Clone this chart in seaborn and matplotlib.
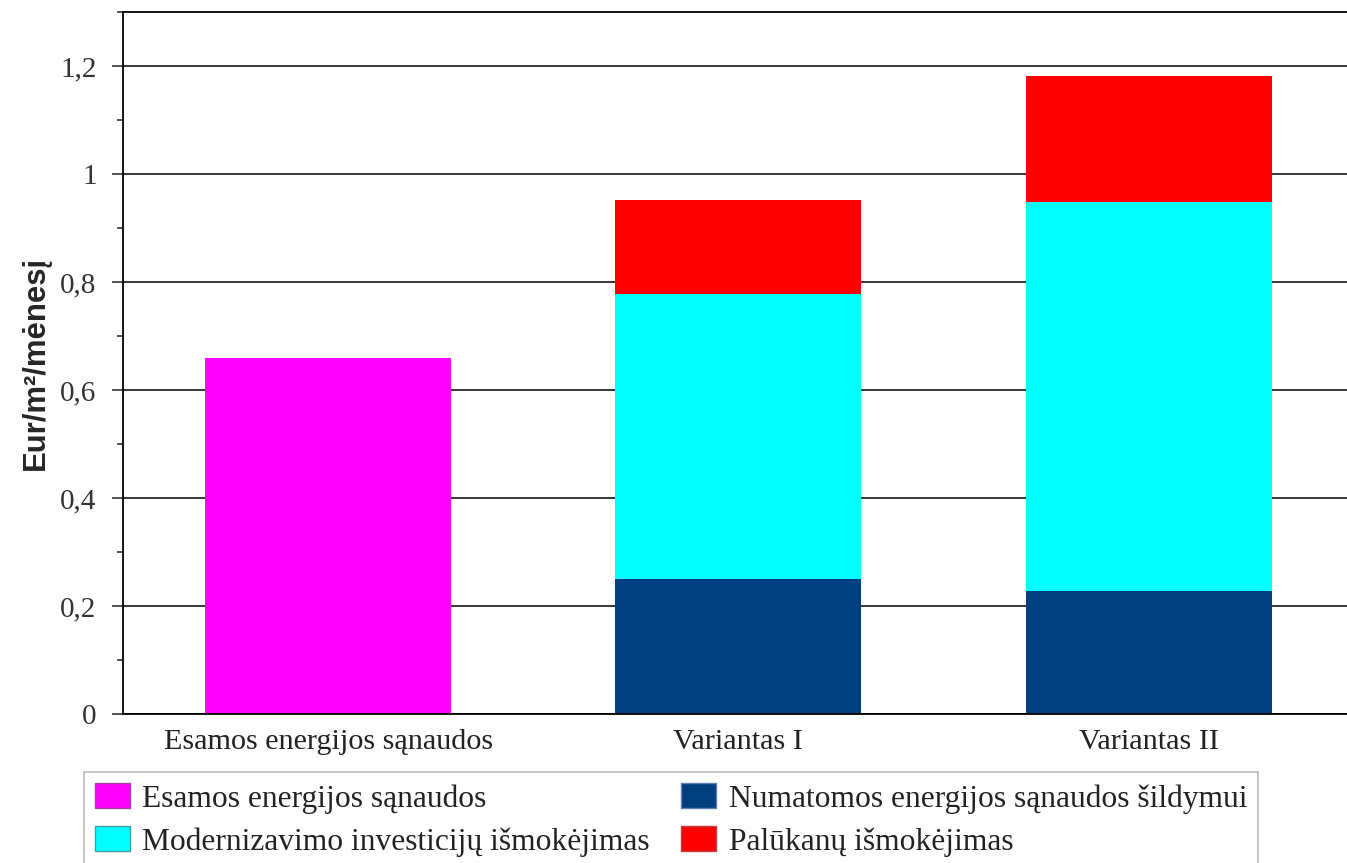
import matplotlib
matplotlib.use("Agg")
import matplotlib.pyplot as plt
from matplotlib.patches import Patch
from matplotlib.ticker import MultipleLocator, FuncFormatter
import seaborn as sns
import numpy as np

categories = ["Esamos energijos sąnaudos", "Variantas I", "Variantas II"]
esamos = [0.66, 0.0, 0.0]
sildymui = [0.0, 0.25, 0.227]
investicijos = [0.0, 0.528, 0.721]
palukanos = [0.0, 0.174, 0.233]

labels = ["Esamos energijos sąnaudos",
          "Modernizavimo investicijų išmokėjimas",
          "Numatomos energijos sąnaudos šildymui",
          "Palūkanų išmokėjimas"]
colors = {"esamos": "#ff00ff", "sild": "#003f7f", "inv": "#00ffff", "pal": "#ff0000"}

sns.set_style("white")
plt.rcParams["font.family"] = ["Liberation Serif", "DejaVu Serif"]

fig = plt.figure(figsize=(13.47, 8.63), dpi=100)
ax = fig.add_axes([123 / 1347, 1 - 714 / 863, 1 - 123 / 1347 + 0.002, (714 - 12) / 863])

# stacked bars drawn as overlapping cumulative totals
s1 = np.array(sildymui)
s2 = s1 + np.array(investicijos)
s3 = s2 + np.array(palukanos)
for vals, col in [(s3, colors["pal"]), (s2, colors["inv"]), (s1, colors["sild"]),
                  (esamos, colors["esamos"])]:
    sns.barplot(x=categories, y=list(vals), order=categories, color=col,
                saturation=1, width=0.6, linewidth=0, ax=ax)

ax.set_xlim(-0.5, 2.49)
ax.set_ylim(0, 1.3)
ax.yaxis.set_major_locator(MultipleLocator(0.2))
ax.yaxis.set_minor_locator(MultipleLocator(0.1))
ax.yaxis.set_major_formatter(FuncFormatter(lambda v, p: f"{v:.1f}".replace(".", ",").replace("0,0", "0").replace("1,0", "1")))
ax.set_axisbelow(True)
ax.yaxis.grid(True, which="major", color="black", linewidth=1.1)
ax.tick_params(axis="y", which="major", length=8, width=1.1, pad=11, labelsize=21,
               labelcolor="#333333", left=True)
ax.tick_params(axis="y", which="minor", length=4, width=1.1, left=True)
ax.tick_params(axis="x", length=0, pad=11, labelsize=21.7, labelcolor="#222222")

for side in ["left", "top", "bottom"]:
    ax.spines[side].set_color("black")
    ax.spines[side].set_linewidth(1.3)
ax.spines["right"].set_visible(False)

ax.set_xlabel("")
ax.set_ylabel("Eur/m²/mėnesį", family=["Liberation Sans", "DejaVu Sans"],
              fontweight="bold", fontsize=22.4, labelpad=7)

handles = [Patch(facecolor=colors["esamos"], edgecolor="#a040a0"),
           Patch(facecolor=colors["inv"], edgecolor="#40a0a0"),
           Patch(facecolor=colors["sild"], edgecolor="#6080b0"),
           Patch(facecolor=colors["pal"], edgecolor="#c04040")]
leg = fig.legend(handles, labels, loc="upper left", bbox_to_anchor=(84 / 1347, 1 - 772 / 863),
                 ncol=2, fontsize=22.7, frameon=True, fancybox=False, edgecolor="#aaaaaa",
                 handlelength=1.1, handleheight=0.85, handletextpad=0.4, columnspacing=1.0,
                 borderpad=0.35, labelspacing=0.4, borderaxespad=0)
leg.get_frame().set_linewidth(1.2)
for t in leg.get_texts():
    t.set_color("#222222")

fig.savefig("out.png", dpi=100)
